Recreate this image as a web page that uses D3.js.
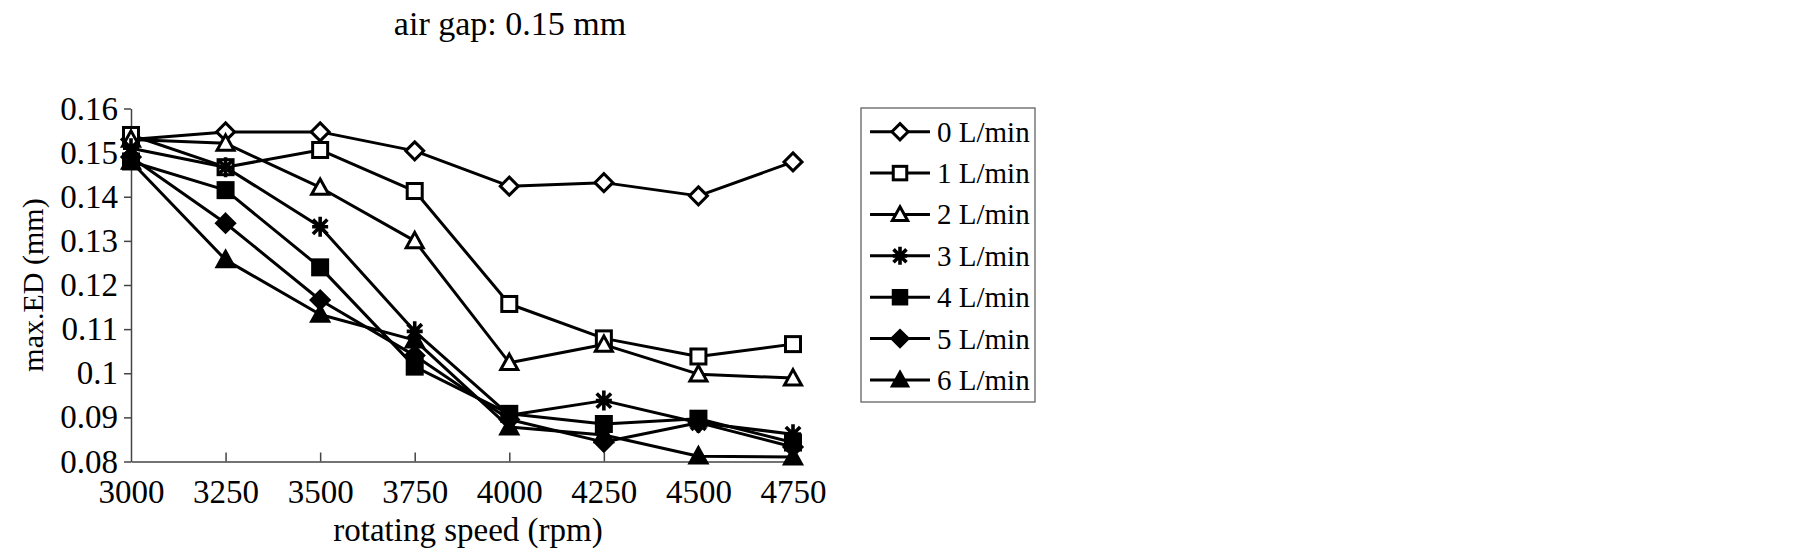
<!DOCTYPE html>
<html>
<head>
<meta charset="utf-8">
<script src="https://cdn.jsdelivr.net/npm/d3@7"></script>
<style>
  html, body { margin: 0; padding: 0; background: #fff; }
  svg { display: block; }
  text { font-family: "Liberation Serif", "Times New Roman", serif; fill: #000; }
</style>
</head>
<body>
<svg id="chart" width="1805" height="556"></svg>
<script>
// ---- data ----
const categories = [3000, 3250, 3500, 3750, 4000, 4250, 4500, 4750];
const seriesNames = ["0 L/min", "1 L/min", "2 L/min", "3 L/min", "4 L/min", "5 L/min", "6 L/min"];
const markerTypes = ["diamondOpen", "squareOpen", "triangleOpen", "star", "squareFilled", "diamondFilled", "triangleFilled"];
const flow0 = [0.153, 0.1547, 0.1547, 0.1504, 0.1424, 0.1432, 0.1402, 0.1479];
const flow1 = [0.154, 0.1467, 0.1506, 0.1413, 0.1157, 0.1079, 0.1038, 0.1066];
const flow2 = [0.153, 0.1521, 0.1421, 0.1300, 0.1024, 0.1065, 0.0998, 0.0989];
const flow3 = [0.151, 0.1467, 0.1332, 0.1095, 0.0905, 0.0938, 0.0888, 0.0862];
const flow4 = [0.148, 0.1415, 0.1240, 0.1015, 0.0908, 0.0885, 0.0897, 0.0843];
const flow5 = [0.149, 0.1340, 0.1166, 0.1040, 0.0895, 0.0844, 0.0888, 0.0833];
const flow6 = [0.148, 0.1257, 0.1133, 0.1075, 0.0878, 0.0860, 0.0812, 0.0810];
const yTicks = [0.08, 0.09, 0.10, 0.11, 0.12, 0.13, 0.14, 0.15, 0.16];
const yTickLabels = ["0.08", "0.09", "0.1", "0.11", "0.12", "0.13", "0.14", "0.15", "0.16"];
const titleText = "air gap: 0.15 mm";
const xTitle = "rotating speed (rpm)";
const yTitle = "max.ED (mm)";

const seriesValues = [flow0, flow1, flow2, flow3, flow4, flow5, flow6];

// ---- layout ----
const svg = d3.select("#chart");
const plot = { left: 131, right: 793, top: 108.5, bottom: 461.5 };

const x = d3.scalePoint().domain(categories).range([plot.left, plot.right]).padding(0);
const y = d3.scaleLinear().domain([0.08, 0.16]).range([plot.bottom, plot.top]);

// title
svg.append("text").attr("x", 510).attr("y", 35).attr("text-anchor", "middle")
  .style("font-size", "34px").text(titleText);

// axes
const yAxis = d3.axisLeft(y).tickValues(yTicks)
  .tickFormat((d, i) => yTickLabels[i]).tickSizeInner(7).tickSizeOuter(0).tickPadding(6);
const gy = svg.append("g").attr("transform", `translate(${plot.left},0)`).call(yAxis);
gy.selectAll("text").style("font-size", "33px").style("font-family", "Liberation Serif");
gy.select(".domain").attr("stroke", "#444").attr("stroke-width", 1.5);
gy.selectAll(".tick line").attr("stroke", "#444").attr("stroke-width", 1.5);

const xAxis = d3.axisBottom(x).tickSizeInner(-9).tickSizeOuter(0).tickPadding(18);
const gx = svg.append("g").attr("transform", `translate(0,${plot.bottom})`).call(xAxis);
gx.selectAll("text").style("font-size", "33px").style("font-family", "Liberation Serif");
gx.select(".domain").attr("stroke", "#444").attr("stroke-width", 1.5);
gx.selectAll(".tick line").attr("stroke", "#444").attr("stroke-width", 1.5);
gx.selectAll(".tick").filter(d => d === categories[0]).select("line").remove();

// axis titles
svg.append("text").attr("x", 468).attr("y", 541).attr("text-anchor", "middle")
  .style("font-size", "33px").text(xTitle);
svg.append("text").attr("transform", `translate(43,${(plot.top + plot.bottom) / 2}) rotate(-90)`)
  .attr("text-anchor", "middle").style("font-size", "30px").text(yTitle);

// markers
function drawMarker(g, type, cx, cy, s) {
  const sw = 3;
  if (type === "diamondOpen" || type === "diamondFilled") {
    const r = 9 * s;
    g.append("path").attr("d", `M${cx},${cy - r}L${cx + r},${cy}L${cx},${cy + r}L${cx - r},${cy}Z`)
      .attr("fill", type === "diamondFilled" ? "#000" : "#fff").attr("stroke", "#000").attr("stroke-width", sw);
  } else if (type === "squareOpen" || type === "squareFilled") {
    const h = 7.5 * s;
    g.append("rect").attr("x", cx - h).attr("y", cy - h).attr("width", 2 * h).attr("height", 2 * h)
      .attr("fill", type === "squareFilled" ? "#000" : "#fff").attr("stroke", "#000").attr("stroke-width", sw);
  } else if (type === "triangleOpen" || type === "triangleFilled") {
    const h = 8.5 * s;
    g.append("path").attr("d", `M${cx},${cy - h}L${cx + h},${cy + h * 0.8}L${cx - h},${cy + h * 0.8}Z`)
      .attr("fill", type === "triangleFilled" ? "#000" : "#fff").attr("stroke", "#000").attr("stroke-width", sw)
      .attr("stroke-linejoin", "miter");
  } else if (type === "star") {
    const r = 10 * s, d = r * 0.72;
    const p = `M${cx},${cy - r}L${cx},${cy + r}M${cx - d},${cy - d}L${cx + d},${cy + d}M${cx + d},${cy - d}L${cx - d},${cy + d}M${cx - r * 0.8},${cy}L${cx + r * 0.8},${cy}`;
    g.append("path").attr("d", p).attr("stroke", "#000").attr("stroke-width", 3.6).attr("fill", "none");
  }
}

const line = d3.line().x((d, i) => x(categories[i])).y(d => y(d));

const gSeries = svg.append("g");
seriesValues.forEach((vals, si) => {
  const g = gSeries.append("g");
  g.append("path").attr("d", line(vals)).attr("fill", "none")
    .attr("stroke", "#000").attr("stroke-width", 3).attr("stroke-linejoin", "round");
  vals.forEach((v, i) => drawMarker(g, markerTypes[si], x(categories[i]), y(v), 1));
});

// legend
const leg = svg.append("g");
leg.append("rect").attr("x", 861).attr("y", 108).attr("width", 174).attr("height", 294)
  .attr("fill", "#fff").attr("stroke", "#555").attr("stroke-width", 1.2);
const legY = d3.scalePoint().domain(seriesNames).range([131.7, 380]);
seriesNames.forEach((name, si) => {
  const cy = legY(name);
  const g = leg.append("g");
  g.append("line").attr("x1", 870).attr("x2", 930).attr("y1", cy).attr("y2", cy)
    .attr("stroke", "#000").attr("stroke-width", 3);
  drawMarker(g, markerTypes[si], 900, cy, 0.9);
  g.append("text").attr("x", 937).attr("y", cy + 10).style("font-size", "29px").text(name);
});
</script>
</body>
</html>
